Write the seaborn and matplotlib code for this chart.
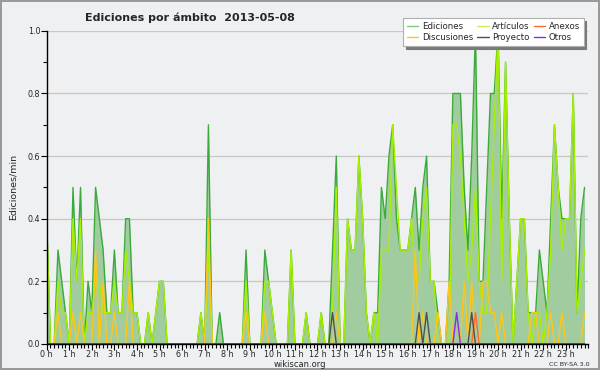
import numpy as np
import pandas as pd
import matplotlib
matplotlib.use('Agg')
import matplotlib.pyplot as plt
import seaborn as sns
from matplotlib.ticker import MultipleLocator

# ediciones por minuto, un valor cada 10 minutos (144 tramos)
ediciones = [
    0.4, 0, 0, 0.3, 0.2, 0.1, 0, 0.5, 0.2, 0.5, 0, 0.2, 0.1, 0.5, 0.4, 0.3, 0.1, 0.1, 0.3, 0.1, 0.1, 0.4, 0.4, 0.1,
    0.1, 0, 0, 0.1, 0, 0.1, 0.2, 0.2, 0, 0, 0, 0, 0, 0, 0, 0, 0, 0.1, 0, 0.7, 0, 0, 0.1, 0,
    0, 0, 0, 0, 0, 0.3, 0, 0, 0, 0, 0.3, 0.2, 0.1, 0, 0, 0, 0, 0.3, 0, 0, 0, 0.1, 0, 0,
    0, 0.1, 0, 0, 0.3, 0.6, 0, 0, 0.4, 0.3, 0.3, 0.6, 0.4, 0.1, 0, 0.1, 0.1, 0.5, 0.4, 0.6, 0.7, 0.4, 0.3, 0.3,
    0.3, 0.4, 0.5, 0.3, 0.5, 0.6, 0.2, 0.2, 0.1, 0, 0, 0.2, 0.8, 0.8, 0.8, 0.5, 0.3, 0.6, 1.0, 0.2, 0.2, 0.5, 0.8, 0.8,
    1.0, 0.4, 0.9, 0.4, 0, 0.2, 0.4, 0.4, 0.1, 0.1, 0.1, 0.3, 0.2, 0.1, 0.4, 0.7, 0.5, 0.4, 0.4, 0.4, 0.8, 0.1, 0.4, 0.5,
]
articulos = [
    0.4, 0, 0, 0.2, 0.1, 0.1, 0, 0.4, 0.2, 0.4, 0, 0.1, 0.1, 0.2, 0.2, 0.1, 0.1, 0.1, 0.2, 0.1, 0.1, 0.3, 0.2, 0.1,
    0.1, 0, 0, 0.1, 0, 0.1, 0.2, 0.2, 0, 0, 0, 0, 0, 0, 0, 0, 0, 0.1, 0, 0.3, 0, 0, 0, 0,
    0, 0, 0, 0, 0, 0.2, 0, 0, 0, 0, 0.2, 0.2, 0.1, 0, 0, 0, 0, 0.3, 0, 0, 0, 0.1, 0, 0,
    0, 0.1, 0, 0, 0.1, 0.5, 0, 0, 0.4, 0.3, 0.3, 0.6, 0.4, 0.1, 0, 0.1, 0, 0.3, 0.3, 0.3, 0.7, 0.5, 0.3, 0.3,
    0.3, 0.4, 0.2, 0.2, 0.4, 0.5, 0.2, 0.2, 0, 0, 0, 0, 0.7, 0.7, 0.6, 0.4, 0.2, 0.3, 0.5, 0.2, 0.1, 0.1, 0.4, 0.7,
    1.0, 0.2, 0.9, 0.4, 0, 0.2, 0.4, 0.4, 0.1, 0, 0.1, 0.1, 0, 0.1, 0.3, 0.7, 0.5, 0.3, 0.4, 0.4, 0.8, 0.1, 0.2, 0.3,
]
anexos = [0] * 144
discusiones = [0] * 144
proyecto = [0] * 144
otros = [0] * 144

# tramos con valores en las series pequeñas
disc_tramos = {3: 0.1, 7: 0.1, 9: 0.1, 13: 0.3, 15: 0.2, 18: 0.1, 22: 0.2, 43: 0.4, 53: 0.1, 58: 0.1,
               77: 0.1, 98: 0.3, 100: 0.1, 104: 0.1, 107: 0.2, 111: 0.2, 113: 0.2, 116: 0.2, 117: 0.2,
               118: 0.1, 119: 0.1, 121: 0.1, 129: 0.1, 130: 0.1, 134: 0.1, 137: 0.1, 143: 0.1}
proy_tramos = {76: 0.1, 99: 0.1, 101: 0.1, 113: 0.1}
anex_tramos = {114: 0.1}
otros_tramos = {109: 0.1}
for k, v in disc_tramos.items():
    discusiones[k] = v
for k, v in proy_tramos.items():
    proyecto[k] = v
for k, v in anex_tramos.items():
    anexos[k] = v
for k, v in otros_tramos.items():
    otros[k] = v

horas = np.arange(len(ediciones)) / 6
hour_labels = [f'{h} h' for h in range(24)]

df = pd.DataFrame({'hora': horas, 'Ediciones': ediciones, 'Artículos': articulos, 'Anexos': anexos,
                   'Discusiones': discusiones, 'Proyecto': proyecto, 'Otros': otros})

sns.set_theme(style='ticks')
plt.rcParams['font.family'] = ['DejaVu Sans']

BG = '#eff0f1'
fig = plt.figure(figsize=(6, 3.7), dpi=100, facecolor=BG)
fig.patch.set_edgecolor('#9a9a9a')
fig.patch.set_linewidth(1.5)
ax = fig.add_axes([0.0778, 0.0705, 0.9027, 0.846])
ax.set_facecolor(BG)

# area de ediciones
ax.fill_between(df['hora'], df['Ediciones'], color='#a0cca0', lw=0)

colores = {'Ediciones': '#3aab3a', 'Artículos': '#a6f000', 'Anexos': '#ff6a33',
           'Discusiones': '#ffc61a', 'Proyecto': '#505050', 'Otros': '#8a2be2'}
for serie in ['Ediciones', 'Artículos', 'Discusiones', 'Anexos', 'Proyecto', 'Otros']:
    sns.lineplot(data=df, x='hora', y=serie, ax=ax, color=colores[serie], lw=1.0, legend=False)

ax.set_xlim(0, 24)
ax.set_ylim(0, 1.0)
ax.set_xticks(range(24))
ax.set_xticklabels(hour_labels, fontsize=5.8)
ax.xaxis.set_minor_locator(MultipleLocator(1 / 6))
ax.set_yticks(np.arange(0, 1.01, 0.2))
ax.yaxis.set_minor_locator(MultipleLocator(0.1))
ax.set_yticklabels([f'{v:.1f}' for v in np.arange(0, 1.01, 0.2)], fontsize=5.8)
ax.tick_params(axis='both', which='major', length=4, width=0.8, color='black', pad=0.5)
ax.tick_params(axis='both', which='minor', length=3, width=0.8, color='black')
ax.grid(axis='y', which='major', color='#c8c8c8', lw=0.9)
ax.set_axisbelow(True)
for s in ['top', 'right']:
    ax.spines[s].set_visible(False)
for s in ['left', 'bottom']:
    ax.spines[s].set_color('black')
    ax.spines[s].set_linewidth(1.0)
ax.set_xlabel('')
ax.set_ylabel('Ediciones/min', fontsize=6.8, labelpad=7)

fig.text(0.142, 0.951, 'Ediciones por ámbito  2013-05-08', fontsize=8, fontweight='bold', va='center')
fig.text(0.5, 0.016, 'wikiscan.org', fontsize=6, ha='center', va='center')
fig.text(0.982, 0.016, 'CC BY-SA 3.0', fontsize=4.6, ha='right', va='center')

# leyenda en 3 columnas (orden por columnas)
orden = ['Ediciones', 'Discusiones', 'Artículos', 'Proyecto', 'Anexos', 'Otros']
leg_colores = dict(colores, Ediciones='#7fc97f', Artículos='#c4f55a')
handles = [plt.Line2D([], [], color=leg_colores[n], lw=1) for n in orden]
leg = fig.legend(handles, orden, loc='upper right', bbox_to_anchor=(0.98, 0.962), ncol=3, fontsize=6.2,
                 frameon=True, fancybox=False, shadow={'color': '#7a7a7a', 'alpha': 1}, handlelength=1.3,
                 handletextpad=0.4, columnspacing=0.5, labelspacing=0.2, borderpad=0.45)
leg.get_frame().set_edgecolor('#b0b0b0')
leg.get_frame().set_linewidth(0.8)

fig.savefig('out.png', dpi=100, facecolor=fig.get_facecolor(), edgecolor=fig.patch.get_edgecolor())
